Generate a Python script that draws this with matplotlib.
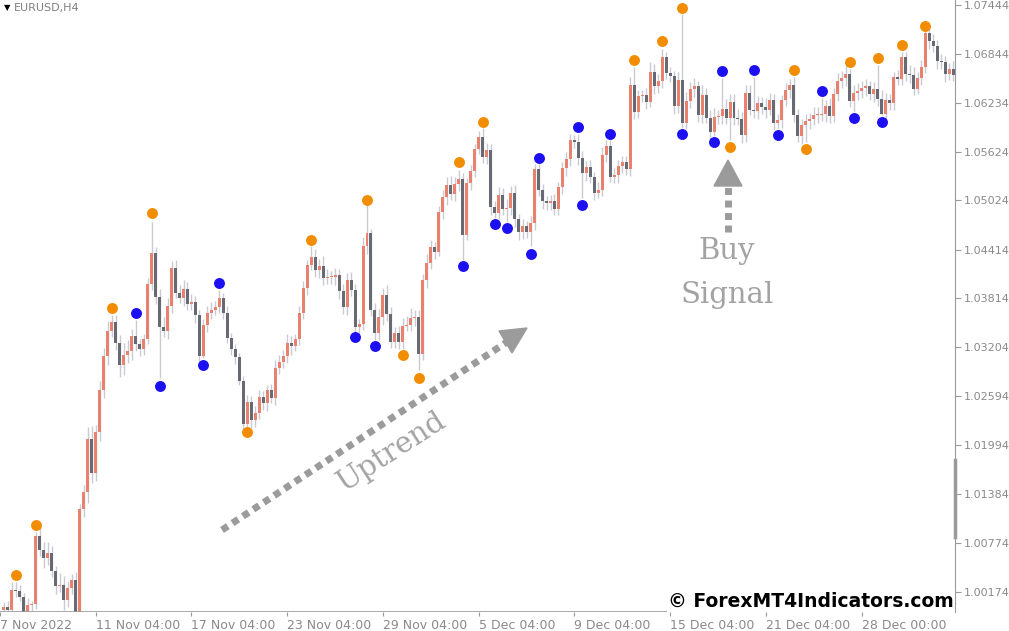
import matplotlib.pyplot as plt
import numpy as np

# EURUSD H4 closes (open = previous close)
closes = [
    0.9998, 0.9995, 1.0019, 1.0018, 1.0011, 0.9992, 1.0001, 1.0002, 1.0086, 1.0069,
    1.0059, 1.0065, 1.0043, 1.0024, 1.0026, 1.0007, 1.0022, 1.0032, 0.9992, 1.0120,
    1.0141, 1.0207, 1.0164, 1.0215, 1.0267, 1.0310, 1.0341, 1.0352, 1.0326, 1.0298,
    1.0311, 1.0316, 1.0334, 1.0324, 1.0318, 1.0331, 1.0399, 1.0437, 1.0383, 1.0346,
    1.0341, 1.0372, 1.0419, 1.0388, 1.0381, 1.0393, 1.0374, 1.0377, 1.0360, 1.0310,
    1.0348, 1.0363, 1.0367, 1.0370, 1.0381, 1.0363, 1.0332, 1.0318, 1.0308, 1.0279,
    1.0225, 1.0253, 1.0230, 1.0239, 1.0259, 1.0251, 1.0267, 1.0258, 1.0295, 1.0302,
    1.0310, 1.0326, 1.0322, 1.0331, 1.0363, 1.0394, 1.0422, 1.0432, 1.0416, 1.0421,
    1.0406, 1.0407, 1.0407, 1.0410, 1.0390, 1.0370, 1.0404, 1.0391, 1.0346, 1.0349,
    1.0446, 1.0462, 1.0367, 1.0338, 1.0358, 1.0385, 1.0362, 1.0327, 1.0338, 1.0327,
    1.0347, 1.0348, 1.0357, 1.0358, 1.0312, 1.0404, 1.0425, 1.0445, 1.0439, 1.0488,
    1.0507, 1.0522, 1.0510, 1.0523, 1.0529, 1.0460, 1.0524, 1.0539, 1.0566, 1.0581,
    1.0556, 1.0565, 1.0494, 1.0487, 1.0509, 1.0492, 1.0493, 1.0512, 1.0479, 1.0463,
    1.0471, 1.0463, 1.0474, 1.0541, 1.0515, 1.0502, 1.0499, 1.0502, 1.0492, 1.0519,
    1.0543, 1.0554, 1.0577, 1.0575, 1.0555, 1.0536, 1.0544, 1.0532, 1.0512, 1.0516,
    1.0559, 1.0570, 1.0532, 1.0534, 1.0545, 1.0550, 1.0541, 1.0646, 1.0612, 1.0632,
    1.0633, 1.0625, 1.0662, 1.0644, 1.0651, 1.0680, 1.0660, 1.0657, 1.0620, 1.0652,
    1.0599, 1.0626, 1.0641, 1.0644, 1.0608, 1.0633, 1.0605, 1.0587, 1.0606, 1.0607,
    1.0616, 1.0605, 1.0625, 1.0605, 1.0604, 1.0584, 1.0636, 1.0615, 1.0613, 1.0623,
    1.0618, 1.0615, 1.0627, 1.0599, 1.0602, 1.0627, 1.0639, 1.0646, 1.0608, 1.0582,
    1.0596, 1.0601, 1.0603, 1.0608, 1.0609, 1.0610, 1.0620, 1.0607, 1.0634, 1.0651,
    1.0654, 1.0659, 1.0626, 1.0636, 1.0638, 1.0642, 1.0644, 1.0634, 1.0641, 1.0628,
    1.0610, 1.0627, 1.0623, 1.0655, 1.0653, 1.0680, 1.0659, 1.0658, 1.0641, 1.0654,
    1.0668, 1.0710, 1.0700, 1.0694, 1.0675, 1.0674, 1.0659, 1.0665, 1.0658,
]
first_open = 0.9995

# typical wick lengths in pips (upper / lower)
wick_up = [
    6, 8, 10, 4, 7, 5, 8, 4, 5, 12, 10, 14, 9, 6, 14, 11, 8, 7, 10, 6,
    8, 14, 16, 9, 12, 10, 12, 5, 8, 9, 15, 14, 9, 8, 7, 6, 7, 5, 8, 10,
    12, 9, 8, 10, 9, 11, 8, 10, 7, 6, 8, 9, 10, 8, 5, 7, 9, 6, 7, 5,
    6, 8, 7, 9, 8, 7, 6, 8, 10, 9, 7, 11, 8, 6, 9, 8, 7, 6, 10, 9,
    12, 10, 8, 9, 7, 9, 8, 10, 8, 7, 11, 9, 5, 8, 10, 9, 12, 8, 7, 9,
    10, 11, 12, 9, 8, 7, 11, 9, 6, 7, 8, 9, 11, 8, 9, 7, 6, 8, 6, 7,
    8, 9, 7, 8, 10, 9, 11, 8, 9, 7, 8, 6, 9, 7, 9, 8, 6, 7, 8, 6,
    7, 9, 8, 6, 10, 9, 7, 8, 6, 9, 10, 7, 8, 9, 7, 8, 7, 9, 10, 8,
    7, 9, 12, 10, 8, 9, 7, 8, 6, 10, 9, 11, 8, 10, 7, 12, 9, 10, 11, 7,
    8, 12, 9, 10, 11, 8, 10, 9, 10, 9, 8, 12, 9, 7, 8, 6, 9, 7, 10, 8,
    7, 9, 8, 10, 9, 8, 7, 9, 8, 10, 9, 11, 8, 9, 10, 8, 9, 7, 8, 10,
    12, 9, 8, 7, 9, 8, 7, 12, 10, 8, 9, 11, 10, 9, 8, 9, 7, 8, 10,
]
wick_dn = [
    8, 10, 6, 7, 5, 10, 6, 8, 6, 7, 12, 9, 8, 10, 7, 12, 9, 8, 12, 10,
    10, 14, 12, 9, 11, 10, 12, 8, 9, 14, 12, 10, 11, 8, 9, 7, 6, 8, 9, 7,
    8, 10, 9, 7, 6, 9, 8, 7, 10, 8, 7, 9, 8, 6, 7, 8, 6, 7, 8, 6,
    9, 8, 10, 9, 7, 8, 10, 7, 9, 8, 7, 9, 11, 6, 8, 7, 9, 6, 8, 10,
    9, 7, 8, 9, 10, 8, 9, 7, 8, 9, 7, 10, 8, 7, 8, 10, 9, 8, 7, 9,
    8, 7, 8, 10, 9, 8, 10, 7, 9, 6, 8, 10, 7, 8, 9, 8, 7, 9, 8, 6,
    7, 8, 10, 9, 7, 8, 9, 8, 10, 9, 8, 7, 9, 8, 7, 10, 8, 9, 7, 8,
    8, 10, 9, 7, 8, 9, 10, 8, 9, 7, 8, 9, 7, 8, 10, 9, 7, 8, 9, 7,
    8, 9, 7, 10, 8, 9, 7, 8, 10, 9, 7, 8, 9, 10, 8, 9, 7, 10, 8, 9,
    10, 8, 7, 9, 8, 10, 9, 7, 8, 9, 8, 10, 7, 9, 8, 10, 7, 9, 8, 7,
    9, 8, 10, 7, 9, 8, 10, 9, 7, 8, 9, 10, 8, 7, 9, 8, 10, 7, 9, 8,
    7, 10, 8, 9, 7, 8, 9, 10, 8, 7, 9, 8, 10, 7, 9, 8, 10, 7, 8,
]

# prominent wicks
high_override = {3: 1.0029, 8: 1.0091, 27: 1.0360, 33: 1.0354, 37: 1.0476, 54: 1.0391,
                 77: 1.0446, 91: 1.0497, 114: 1.0540, 120: 1.0592, 134: 1.0548,
                 144: 1.0585, 152: 1.0577, 158: 1.0668, 165: 1.0690, 170: 1.0734,
                 180: 1.0654, 188: 1.0655, 198: 1.0655, 205: 1.0629, 212: 1.0665,
                 219: 1.0670, 225: 1.0686, 231: 1.0713}
low_override = {39: 1.0282, 50: 1.0307, 61: 1.0220, 88: 1.0339, 93: 1.0329, 100: 1.0318,
                104: 1.0292, 115: 1.0429, 123: 1.0481, 126: 1.0476, 132: 1.0446,
                145: 1.0506, 170: 1.0592, 178: 1.0582, 182: 1.0577, 194: 1.0592,
                201: 1.0575, 213: 1.0612, 220: 1.0608}

orange_idx = [3, 8, 27, 37, 61, 77, 91, 100, 104, 114, 120, 158, 165, 170, 182, 198,
              201, 212, 219, 225, 231]
orange_px = [1.0038, 1.0100, 1.0369, 1.0487, 1.0215, 1.0453, 1.0503, 1.0311, 1.0282,
             1.0550, 1.0600, 1.0677, 1.0700, 1.0741, 1.0569, 1.0664, 1.0566, 1.0674,
             1.0679, 1.0695, 1.0719]
blue_idx = [33, 39, 50, 54, 88, 93, 115, 123, 126, 132, 134, 144, 145, 152, 170, 178,
            180, 188, 194, 205, 213, 220]
blue_px = [1.0363, 1.0272, 1.0298, 1.0400, 1.0333, 1.0322, 1.0421, 1.0473, 1.0468,
           1.0436, 1.0555, 1.0594, 1.0497, 1.0585, 1.0585, 1.0575, 1.0663, 1.0664,
           1.0584, 1.0638, 1.0605, 1.0600]

price_ticks = [1.07444, 1.06844, 1.06234, 1.05624, 1.05024, 1.04414, 1.03814,
               1.03204, 1.02594, 1.01994, 1.01384, 1.00774, 1.00174]
date_idx = [-1, 23, 47, 71, 95, 119, 143, 167, 191, 215]
date_labels = ["7 Nov 2022", "11 Nov 04:00", "17 Nov 04:00", "23 Nov 04:00", "29 Nov 04:00",
               "5 Dec 04:00", "9 Dec 04:00", "15 Dec 04:00", "21 Dec 04:00", "28 Dec 00:00"]

closes = np.array(closes)
opens = np.concatenate([[first_open], closes[:-1]])
x = np.arange(len(closes))
highs = np.maximum(opens, closes) + np.array(wick_up) / 10000
lows = np.minimum(opens, closes) - np.array(wick_dn) / 10000
for k, v in high_override.items():
    highs[k] = v
for k, v in low_override.items():
    lows[k] = v

W, H = 1009, 631
fig = plt.figure(figsize=(W / 100, H / 100), dpi=100)
ax = fig.add_axes([0, 1 - 612 / H, 955 / W, 612 / H])
ymin, ymax = 0.99921, 1.0751
ax.set_xlim(-0.325, 238.4)
ax.set_ylim(ymin, ymax)

bull = closes >= opens
ax.vlines(x, lows, highs, color="#c9cad2", lw=1, zorder=1)
body = np.abs(closes - opens)
body = np.maximum(body, 0.00012)
ax.bar(x[bull], body[bull], bottom=np.minimum(opens, closes)[bull], width=0.75,
       color="#e8826f", zorder=2)
ax.bar(x[~bull], body[~bull], bottom=np.minimum(opens, closes)[~bull], width=0.75,
       color="#676a72", zorder=2)
ax.scatter(orange_idx, orange_px, s=62, color="#f28c00", zorder=3, linewidths=0)
ax.scatter(blue_idx, blue_px, s=62, color="#1c0ff2", zorder=3, linewidths=0)

# axes styling like MT4
for s in ["top", "left", "bottom"]:
    ax.spines[s].set_visible(False)
ax.spines["right"].set_color("#9a9a9a")
ax.yaxis.tick_right()
ax.set_yticks(price_ticks)
ax.set_yticklabels([f"{p:.5f}" for p in price_ticks])
ax.tick_params(axis="y", colors="#9a9a9a", labelcolor="#8a8a8a", labelsize=8, length=4, pad=2)
ax.set_xticks(date_idx)
ax.set_xticklabels(date_labels, ha="left")
ax.tick_params(axis="x", colors="#9a9a9a", labelcolor="#8a8a8a", labelsize=9, length=3, pad=2)
ax.axhline(ymin, color="#9a9a9a", lw=1.2)
fig.add_artist(plt.Line2D([955 / W, 955 / W], [1 - 537 / H, 1 - 460 / H], color="#9a9a9a", lw=2.5))

fig.text(4 / W, 1 - 8 / H, "▼", fontsize=6, color="black", va="center")
fig.text(14 / W, 1 - 8 / H, "EURUSD,H4", fontsize=8, color="#808080", va="center")

# annotations
def fx(px):
    return px / W

def fy(py):
    return 1 - py / H

fig.add_artist(plt.Line2D([fx(222), fx(510)], [fy(530), fy(340)], color="#9b9b9b",
                          lw=5, ls=(0, (1, 0.8))))
fig.add_artist(plt.Polygon([[fx(527), fy(328)], [fx(499), fy(331)], [fx(512), fy(353)]],
                           closed=True, color="#9b9b9b"))
fig.add_artist(plt.Line2D([fx(728), fx(728)], [fy(232), fy(182)], color="#9b9b9b",
                          lw=5, ls=(0, (1, 0.8))))
fig.add_artist(plt.Polygon([[fx(728), fy(160)], [fx(714), fy(186)], [fx(742), fy(186)]],
                           closed=True, color="#9b9b9b"))
fig.text(fx(392), fy(452), "Uptrend", rotation=33, fontsize=21, color="#a3a3a3",
         family="DejaVu Serif", ha="center", va="center")
fig.text(fx(727), fy(251), "Buy", fontsize=21, color="#a3a3a3", family="DejaVu Serif",
         ha="center", va="center")
fig.text(fx(727), fy(295), "Signal", fontsize=21, color="#a3a3a3", family="DejaVu Serif",
         ha="center", va="center")
fig.text(fx(668), fy(601), "© ForexMT4Indicators.com", fontsize=13.5, fontweight="bold",
         color="black", ha="left", va="center",
         bbox=dict(facecolor="white", edgecolor="none", pad=1))

fig.savefig("out.png", dpi=100)
